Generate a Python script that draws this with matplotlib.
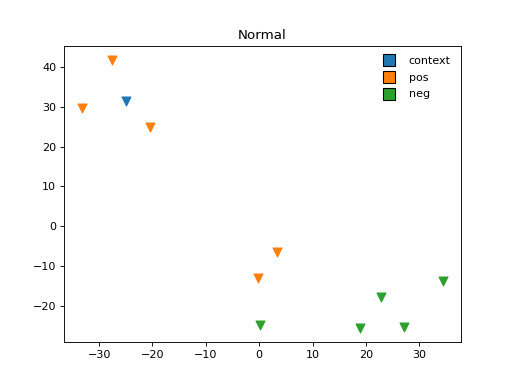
import numpy as np
import matplotlib.pyplot as plt
from matplotlib.lines import Line2D

# points
context_x = [-25.0]
context_y = [31.4]

pos_x = [-27.5, -33.2, -20.4, 3.4, -0.2]
pos_y = [41.9, 29.7, 24.9, -6.5, -13.0]

neg_x = [34.4, 22.9, 0.1, 18.8, 27.2]
neg_y = [-13.9, -17.8, -24.8, -25.7, -25.4]

labels = ['context', 'pos', 'neg']
colors = ['tab:blue', 'tab:orange', 'tab:green']

fig, ax = plt.subplots(figsize=(6.4, 4.8), dpi=80)

ax.scatter(context_x, context_y, marker='v', s=64, c=colors[0])
ax.scatter(pos_x, pos_y, marker='v', s=64, c=colors[1])
ax.scatter(neg_x, neg_y, marker='v', s=64, c=colors[2])

handles = [Line2D([], [], marker='s', linestyle='none', markersize=10,
                  markerfacecolor=colors[i], markeredgecolor='black')
           for i in range(3)]
ax.legend(handles, labels, loc='upper right', frameon=False, labelspacing=0.6)

ax.set_title('Normal')

plt.savefig('out.png', dpi=80)
